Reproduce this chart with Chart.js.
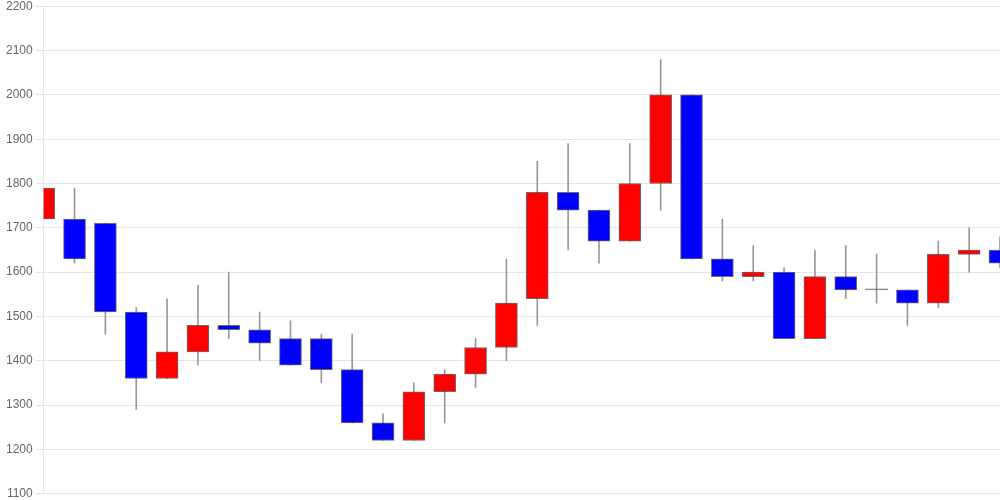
<!DOCTYPE html>
<html>
<head>
<meta charset="utf-8">
<script src="https://cdn.jsdelivr.net/npm/chart.js@4/dist/chart.umd.min.js"></script>
<style>
  html, body { margin: 0; padding: 0; background: #fff; }
  #wrap { width: 1000px; height: 500px; }
</style>
</head>
<body>
<div id="wrap"><canvas id="candles"></canvas></div>
<script>
// one entry per session
const openPrices  = [1720, 1720, 1710, 1510, 1360, 1420, 1480, 1470, 1450, 1450, 1380, 1260, 1220, 1330, 1370, 1430,
                     1540, 1780, 1740, 1670, 1800, 2000, 1630, 1590, 1600, 1450, 1590, 1560, 1560, 1530, 1640, 1650];
const highPrices  = [1790, 1790, 1710, 1520, 1540, 1570, 1600, 1510, 1490, 1460, 1460, 1280, 1350, 1380, 1450, 1630,
                     1850, 1890, 1740, 1890, 2080, 2000, 1720, 1660, 1610, 1650, 1660, 1640, 1560, 1670, 1700, 1680];
const lowPrices   = [1720, 1620, 1460, 1290, 1360, 1390, 1450, 1400, 1390, 1350, 1260, 1220, 1220, 1260, 1340, 1400,
                     1480, 1650, 1620, 1670, 1740, 1630, 1580, 1580, 1450, 1450, 1540, 1530, 1480, 1520, 1600, 1610];
const closePrices = [1790, 1630, 1510, 1360, 1420, 1480, 1470, 1440, 1390, 1380, 1260, 1220, 1330, 1370, 1430, 1530,
                     1780, 1740, 1670, 1800, 2000, 1630, 1590, 1600, 1450, 1590, 1560, 1560, 1530, 1640, 1650, 1620];
const yTicks = { min: 1100, max: 2200, step: 100 };

const labels = openPrices.map((_, i) => String(i + 1));
const bodies = openPrices.map((o, i) => [o, closePrices[i]]);
const wicks = lowPrices.map((l, i) => [l, highPrices[i]]);
const bodyColors = openPrices.map((o, i) => {
  if (closePrices[i] === o) return '#777';
  return closePrices[i] > o ? '#ff0000' : '#0000ff';
});

new Chart(document.getElementById('candles').getContext('2d'), {
  type: 'bar',
  data: {
    labels: labels,
    datasets: [
      {
        label: 'body',
        data: bodies,
        backgroundColor: bodyColors,
        borderColor: 'rgba(60,60,60,0.75)',
        borderWidth: 1,
        borderSkipped: false,
        barThickness: 22,
        minBarLength: 1,
        grouped: false,
        order: 1,
      },
      {
        label: 'wick',
        data: wicks,
        backgroundColor: '#999',
        borderWidth: 0,
        barThickness: 1,
        grouped: false,
        order: 2,
      }
    ]
  },
  options: {
    responsive: true,
    maintainAspectRatio: false,
    animation: false,
    layout: { padding: { left: 3 } },
    plugins: {
      legend: { display: false },
      tooltip: { enabled: false }
    },
    scales: {
      x: {
        display: false,
        offset: false,
      },
      y: {
        min: yTicks.min,
        max: yTicks.max,
        ticks: {
          stepSize: yTicks.step,
          color: '#666',
          font: { size: 12, lineHeight: 0.55 },
          callback: (v) => String(v),
        },
        grid: { color: 'rgba(0,0,0,0.1)' },
      }
    }
  }
});
</script>
</body>
</html>
